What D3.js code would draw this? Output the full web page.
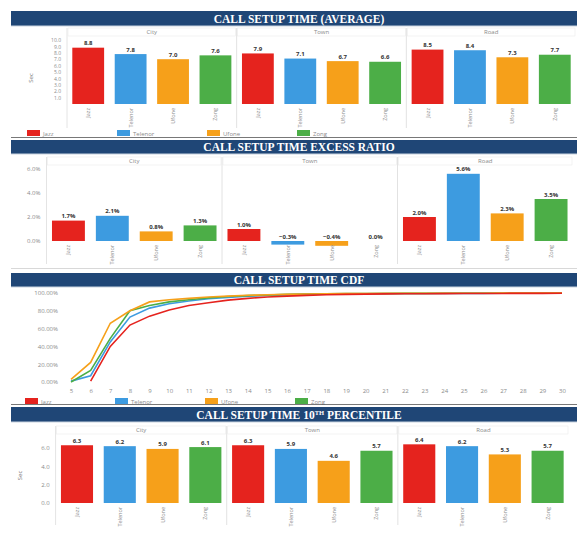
<!DOCTYPE html>
<html>
<head>
<meta charset="utf-8">
<script src="https://cdn.jsdelivr.net/npm/d3@7"></script>
<style>
  body { margin: 0; background: #fff; }
  text { font-family: "Open Sans", sans-serif; }
</style>
</head>
<body>
<svg id="chart" width="577" height="533"></svg>
<script>
const operators = ['Jazz', 'Telenor', 'Ufone', 'Zong'];
const areas = ['City', 'Town', 'Road'];
const colors = ['#e5231e', '#3d9be0', '#f6a01a', '#4cae47'];

// values per area, in operator order
const avgSetup = [[8.8, 7.8, 7.0, 7.6], [7.9, 7.1, 6.7, 6.6], [8.5, 8.4, 7.3, 7.7]];
const excessRatio = [[1.7, 2.1, 0.8, 1.3], [1.0, -0.3, -0.4, 0.0], [2.0, 5.6, 2.3, 3.5]];
const tenthPct = [[6.3, 6.2, 5.9, 6.1], [6.3, 5.9, 4.6, 5.7], [6.4, 6.2, 5.3, 5.7]];

const cdfSeconds = d3.range(5, 31);
const cdfJazz = [null, 1, 40, 64, 74, 81, 86, 89, 92, 94, 95.5, 96.5, 97.3, 98, 98.4, 98.7, 99, 99.1, 99.2, 99.3, 99.4, 99.5, 99.5, 99.6, 99.6, 99.7];
const cdfTelenor = [1, 7, 45, 73, 83, 88, 91, 93.5, 95, 96.3, 97.2, 97.9, 98.4, 98.8, 99, 99.2, 99.3, 99.4, 99.5, 99.5, 99.6, 99.6, 99.7, 99.7, 99.7, 99.8];
const cdfUfone = [3, 22, 66, 80, 90, 92.5, 94, 95.5, 96.5, 97.4, 98, 98.5, 98.9, 99.2, 99.4, 99.5, 99.6, 99.7, 99.7, 99.8, 99.8, 99.8, 99.9, 99.9, 99.9, 99.9];
const cdfZong = [0, 13, 49, 80, 86, 90, 92.5, 94.5, 96, 97, 97.8, 98.4, 98.8, 99.1, 99.3, 99.4, 99.5, 99.6, 99.6, 99.7, 99.7, 99.8, 99.8, 99.8, 99.8, 99.9];
const cdfSeries = [cdfJazz, cdfTelenor, cdfUfone, cdfZong];

const svg = d3.select('#chart');
const navy = '#1f4676';
const grey = '#8a8a8a';

function titleBar(y, h, label, sup) {
  svg.append('rect').attr('x', 11).attr('y', y).attr('width', 566).attr('height', h).attr('fill', navy);
  svg.append('line').attr('x1', 11).attr('x2', 577).attr('y1', y + h).attr('y2', y + h)
    .attr('stroke', '#c9d3df').attr('stroke-width', 1);
  const t = svg.append('text')
    .attr('x', 299).attr('y', y + h / 2 + 4)
    .attr('text-anchor', 'middle')
    .style('font-family', '"Liberation Serif", "DejaVu Serif", serif')
    .style('font-weight', 'bold').style('font-size', '11.5px')
    .attr('fill', '#fff')
    .text(label);
  if (sup) {
    t.append('tspan').attr('dy', -3.5).style('font-size', '6.5px').text(sup);
    t.append('tspan').attr('dy', 3.5).text(' PERCENTILE');
  }
}

function legend(y, x0) {
  const g = svg.append('g');
  operators.forEach((op, i) => {
    g.append('rect').attr('x', x0 + i * 90).attr('y', y - 3).attr('width', 13).attr('height', 6).attr('fill', colors[i]);
    g.append('text').attr('x', x0 + i * 90 + 16).attr('y', y + 2.5)
      .style('font-size', '6px').attr('fill', grey).text(op);
  });
}

function barPanel(opts) {
  const keys = [];
  areas.forEach(a => operators.forEach(o => keys.push(a + '|' + o)));
  const flat = opts.data.flat();
  const x = d3.scaleBand().domain(keys).range(opts.xRange).paddingInner(0.25).paddingOuter(0.125);
  const y = d3.scaleLinear().domain(opts.yDomain).range(opts.yRange);
  const g = svg.append('g');

  // y axis line and ticks
  const ax = g.append('g').attr('transform', `translate(${opts.xRange[0]},0)`)
    .call(d3.axisLeft(y).tickValues(opts.ticks).tickFormat(opts.fmt).tickSize(0).tickPadding(6));
  ax.select('.domain').attr('stroke', '#e4e4e4').attr('d', `M0,${opts.top}V${opts.bottom}`);
  ax.selectAll('text').style('font-size', opts.tickSize || '6px').attr('fill', grey).style('font-family', '"Open Sans", sans-serif');

  if (opts.yLabel) {
    g.append('text').attr('transform', `translate(${opts.xRange[0] - 34},${(opts.top + opts.bottom) / 2}) rotate(-90)`)
      .attr('text-anchor', 'middle').style('font-size', '6px').attr('fill', '#777').text(opts.yLabel);
  }

  // group separators and headers
  areas.forEach((a, gi) => {
    const first = x(a + '|Jazz');
    const last = x(a + '|Zong') + x.bandwidth();
    const cx = (first + last) / 2;
    const left = gi === 0 ? opts.xRange[0] : first - x.step() * 0.125;
    const right = gi === 2 ? opts.xRange[1] : last + x.step() * 0.125;
    g.append('rect').attr('x', left + 1).attr('y', opts.top).attr('width', right - left - 2).attr('height', 8)
      .attr('fill', 'none').attr('stroke', '#ececec').attr('stroke-width', 0.6);
    g.append('text').attr('x', cx).attr('y', opts.top + 6).attr('text-anchor', 'middle')
      .style('font-size', '6px').attr('fill', grey).text(a);
    if (gi > 0) {
      g.append('line').attr('x1', left).attr('x2', left).attr('y1', opts.top).attr('y2', opts.bottom)
        .attr('stroke', '#e2e2e2').attr('stroke-width', 1);
    }
  });

  const bars = keys.map((k, i) => ({ key: k, value: flat[i], color: colors[i % 4], op: operators[i % 4] }));
  g.selectAll('rect.bar').data(bars).join('rect').attr('class', 'bar')
    .attr('x', d => x(d.key))
    .attr('width', x.bandwidth())
    .attr('y', d => Math.min(y(d.value), y(0)))
    .attr('height', d => Math.abs(y(0) - y(d.value)))
    .attr('fill', d => d.color);

  g.selectAll('text.val').data(bars).join('text').attr('class', 'val')
    .attr('x', d => x(d.key) + x.bandwidth() / 2)
    .attr('y', d => Math.min(y(d.value), y(0)) - 2.5)
    .attr('text-anchor', 'middle')
    .style('font-size', '6px').style('font-weight', 'bold').attr('fill', '#333')
    .text(d => opts.valFmt(d.value));

  g.selectAll('text.cat').data(bars).join('text').attr('class', 'cat')
    .attr('transform', d => `translate(${x(d.key) + x.bandwidth() / 2 + 2},${y(0) + 4}) rotate(-90)`)
    .attr('text-anchor', 'end')
    .style('font-size', '5.5px').attr('fill', grey)
    .text(d => d.op);
}

// Panel 1
titleBar(11, 15, 'CALL SETUP TIME (AVERAGE)');
barPanel({
  data: avgSetup, xRange: [67, 576], yDomain: [0, 10], yRange: [104, 40],
  ticks: d3.range(1, 11), fmt: d3.format('.1f'), valFmt: d3.format('.1f'),
  top: 28, bottom: 128, yLabel: 'Sec', tickSize: '5px'
});
legend(133, 27);
svg.append('line').attr('x1', 11).attr('x2', 577).attr('y1', 137.5).attr('y2', 137.5).attr('stroke', '#555').attr('stroke-width', 0.8);

// Panel 2
titleBar(140, 14, 'CALL SETUP TIME EXCESS RATIO');
barPanel({
  data: excessRatio, xRange: [46.5, 573], yDomain: [0, 6], yRange: [241, 169],
  ticks: [0, 2, 4, 6], fmt: d => d3.format('.1f')(d) + '%', valFmt: d => d3.format('.1f')(d) + '%',
  top: 157, bottom: 264
});
svg.append('line').attr('x1', 11).attr('x2', 577).attr('y1', 268.5).attr('y2', 268.5).attr('stroke', '#d8d8d8').attr('stroke-width', 1);

// Panel 3 (CDF)
titleBar(273, 14, 'CALL SETUP TIME CDF');
{
  const x = d3.scaleLinear().domain([5, 30]).range([71, 562]);
  const y = d3.scaleLinear().domain([0, 100]).range([382, 293]);
  const g = svg.append('g');
  const ay = g.append('g').attr('transform', 'translate(60,0)')
    .call(d3.axisLeft(y).tickValues([0, 20, 40, 60, 80, 100]).tickFormat(d => d3.format('.2f')(d) + '%').tickSize(0).tickPadding(2));
  ay.select('.domain').remove();
  ay.selectAll('text').style('font-size', '6px').attr('fill', grey).style('font-family', '"Open Sans", sans-serif');
  const axx = g.append('g').attr('transform', 'translate(0,386)')
    .call(d3.axisBottom(x).tickValues(cdfSeconds).tickFormat(d3.format('d')).tickSize(0).tickPadding(3));
  axx.select('.domain').remove();
  axx.selectAll('text').style('font-size', '6px').attr('fill', grey).style('font-family', '"Open Sans", sans-serif');

  const line = d3.line().defined(d => d[1] !== null).x(d => x(d[0])).y(d => y(d[1]));
  [1, 3, 2, 0].forEach(i => {
    g.append('path')
      .datum(cdfSeconds.map((s, j) => [s, cdfSeries[i][j]]))
      .attr('d', line).attr('fill', 'none')
      .attr('stroke', colors[i]).attr('stroke-width', 1.6);
  });
}
legend(401, 25);
svg.append('line').attr('x1', 11).attr('x2', 577).attr('y1', 404.5).attr('y2', 404.5).attr('stroke', '#555').attr('stroke-width', 0.8);

// Panel 4
titleBar(407, 15, 'CALL SETUP TIME 10', 'TH');
barPanel({
  data: tenthPct, xRange: [55.6, 569], yDomain: [0, 6], yRange: [503, 448],
  ticks: [0, 2, 4, 6], fmt: d3.format('.1f'), valFmt: d3.format('.1f'),
  top: 426, bottom: 525, yLabel: 'Sec'
});
</script>
</body>
</html>
